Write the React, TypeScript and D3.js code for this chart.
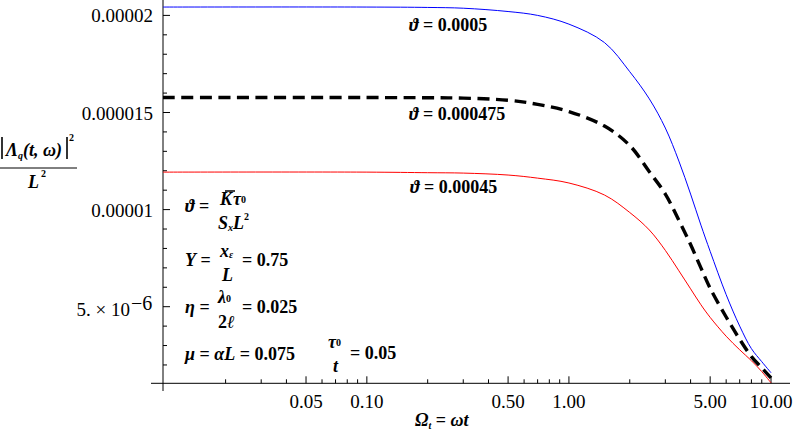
import * as d3 from 'd3';

// Ω_t = ωt sample points (log axis)
const omega = [0.0098, 0.1, 0.2, 0.3, 0.5, 0.7, 1, 1.5, 2, 2.5, 3, 3.5, 4, 4.5, 5, 6, 7, 8, 9, 10];
// |Λq|²/L² in units of 1e-6
const theta0005 = [20.43, 20.43, 20.41, 20.37, 20.2, 20.0, 19.55, 18.6, 17.1, 15.7, 14.2, 12.5, 10.8, 9.2, 7.85, 5.62, 4.0, 2.84, 2.17, 1.6];
const theta000475 = [15.77, 15.77, 15.76, 15.74, 15.63, 15.42, 15.05, 14.3, 13.3, 11.95, 10.8, 9.45, 8.2, 7.0, 5.95, 4.47, 3.32, 2.43, 1.85, 1.33];
const theta00045 = [11.93, 11.93, 11.9, 11.88, 11.78, 11.62, 11.37, 10.75, 9.85, 8.95, 7.9, 6.85, 5.92, 5.1, 4.45, 3.48, 2.78, 2.22, 1.66, 1.08];

const xMajor = [0.05, 0.1, 0.5, 1, 5, 10];
const xMajorLabels = ['0.05', '0.10', '0.50', '1.00', '5.00', '10.00'];
const xMinor = [0.02, 0.03, 0.04, 0.06, 0.07, 0.08, 0.09, 0.2, 0.3, 0.4, 0.6, 0.7, 0.8, 0.9, 2, 3, 4, 6, 7, 8, 9];
const yMajor = [1e-5, 1.5e-5, 2e-5];
const yMajorLabels = ['0.00001', '0.000015', '0.00002'];
const yMinor = [2e-6, 3e-6, 4e-6, 6e-6, 7e-6, 8e-6, 9e-6, 1.1e-5, 1.2e-5, 1.3e-5, 1.4e-5, 1.6e-5, 1.7e-5, 1.8e-5, 1.9e-5];

const W = 793;
const H = 431;
const serif = "'Liberation Serif', 'DejaVu Serif', serif";

const App = () => {
  const x = d3.scaleLog().domain([0.0098, 10]).range([163, 771]);
  const y = d3.scaleLinear().domain([0, 2e-5]).range([403.8, 15.4]);
  const x0 = x(0.0098);
  const y0 = y(1.055e-6);

  const line = d3.line<number>()
    .x((_, i) => x(omega[i]))
    .y(d => y(d * 1e-6))
    .curve(d3.curveCatmullRom.alpha(0.5));

  return (
    <svg width={W} height={H} style={{ position: 'absolute', left: 0, top: 0, background: '#fff', fontFamily: serif }}>
      {/* axes */}
      <line x1={151} x2={790} y1={y0} y2={y0} stroke="#000" />
      <line x1={x0} x2={x0} y1={0} y2={391} stroke="#000" />
      {xMinor.map(t => (
        <line key={'xm' + t} x1={x(t)} x2={x(t)} y1={y0} y2={y0 - 4} stroke="#000" />
      ))}
      {xMajor.map((t, i) => (
        <g key={'xM' + t}>
          <line x1={x(t)} x2={x(t)} y1={y0} y2={y0 - 7} stroke="#000" />
          <text x={x(t)} y={408} fontSize={19} textAnchor="middle">{xMajorLabels[i]}</text>
        </g>
      ))}
      {yMinor.map(t => (
        <line key={'ym' + t} x1={x0} x2={x0 + 4} y1={y(t)} y2={y(t)} stroke="#000" />
      ))}
      {[5e-6, ...yMajor].map(t => (
        <line key={'yM' + t} x1={x0} x2={x0 + 7} y1={y(t)} y2={y(t)} stroke="#000" />
      ))}
      {yMajorLabels.map((s, i) => (
        <text key={'yl' + s} x={153} y={y(yMajor[i]) + 7} fontSize={19} textAnchor="end">{s}</text>
      ))}
      <text x={130} y={y(5e-6) + 9} fontSize={19} textAnchor="end">5. × 10</text>
      <text x={131} y={y(5e-6) + 3} fontSize={20}>−6</text>

      {/* curves */}
      <path d={line(theta0005) ?? ''} fill="none" stroke="#0000ff" strokeWidth={1} />
      <path d={line(theta00045) ?? ''} fill="none" stroke="#ff0000" strokeWidth={1} />
      <path d={line(theta000475) ?? ''} fill="none" stroke="#000" strokeWidth={3.4} strokeDasharray="12,6.5" />

      {/* curve labels */}
      <g fontSize={18} fontWeight="bold">
        <text x={409} y={31}><tspan fontStyle="italic">ϑ</tspan> = 0.0005</text>
        <text x={409} y={120}><tspan fontStyle="italic">ϑ</tspan> = 0.000475</text>
        <text x={410} y={193}><tspan fontStyle="italic">ϑ</tspan> = 0.00045</text>
      </g>

      {/* y label */}
      <g fontSize={18} fontWeight="bold" fontStyle="italic">
        <line x1={2} x2={2} y1={137} y2={159} stroke="#000" strokeWidth={1.6} />
        <text x={6} y={156}>Λ<tspan fontSize={10} dy={3}>q</tspan><tspan dy={-3}>(t, ω)</tspan></text>
        <line x1={67} x2={67} y1={137} y2={159} stroke="#000" strokeWidth={1.6} />
        <text x={69} y={141} fontSize={10} fontStyle="normal">2</text>
        <line x1={0} x2={77} y1={168} y2={168} stroke="#000" strokeWidth={1} />
        <text x={28} y={188}>L</text>
        <text x={41} y={177} fontSize={10} fontStyle="normal">2</text>
      </g>

      {/* parameter block */}
      <g fontSize={18} fontWeight="bold">
        <text x={185} y={212}><tspan fontStyle="italic">ϑ</tspan> =</text>
        <text x={220} y={205} fontStyle="italic">K<tspan dx={1}>τ</tspan><tspan fontSize={10} fontStyle="normal" dy={-2}>0</tspan></text>
        <line x1={225} x2={235} y1={191} y2={191} stroke="#000" strokeWidth={1.5} />
        <text x={218} y={229} fontStyle="italic">S<tspan fontSize={10} dy={2}>x</tspan><tspan dy={-2}>L</tspan><tspan fontSize={10} fontStyle="normal" dy={-9}>2</tspan></text>

        <text x={185} y={266}><tspan fontStyle="italic">Υ</tspan> =</text>
        <text x={220} y={257} fontStyle="italic">x<tspan fontSize={10} dy={1}>ε</tspan></text>
        <text x={222} y={281} fontStyle="italic">L</text>
        <text x={242} y={266}>= 0.75</text>

        <text x={185} y={313}><tspan fontStyle="italic">η</tspan> =</text>
        <text x={218} y={303} fontStyle="italic">λ<tspan fontSize={10} fontStyle="normal" dy={-1}>0</tspan></text>
        <text x={218} y={328}>2<tspan fontStyle="italic">ℓ</tspan></text>
        <text x={242} y={313}>= 0.025</text>

        <text x={185} y={360}><tspan fontStyle="italic">μ</tspan> = <tspan fontStyle="italic">αL</tspan> = 0.075</text>

        <text x={328} y={348} fontStyle="italic">τ<tspan fontSize={10} fontStyle="normal" dy={-2}>0</tspan></text>
        <text x={333} y={372} fontStyle="italic">t</text>
        <text x={350} y={359}>= 0.05</text>

        <text x={415} y={426}><tspan fontStyle="italic">Ω</tspan><tspan fontSize={10} fontStyle="italic" dy={3}>t</tspan><tspan dy={-3}> = </tspan><tspan fontStyle="italic">ωt</tspan></text>
      </g>
    </svg>
  );
};

export default App;
